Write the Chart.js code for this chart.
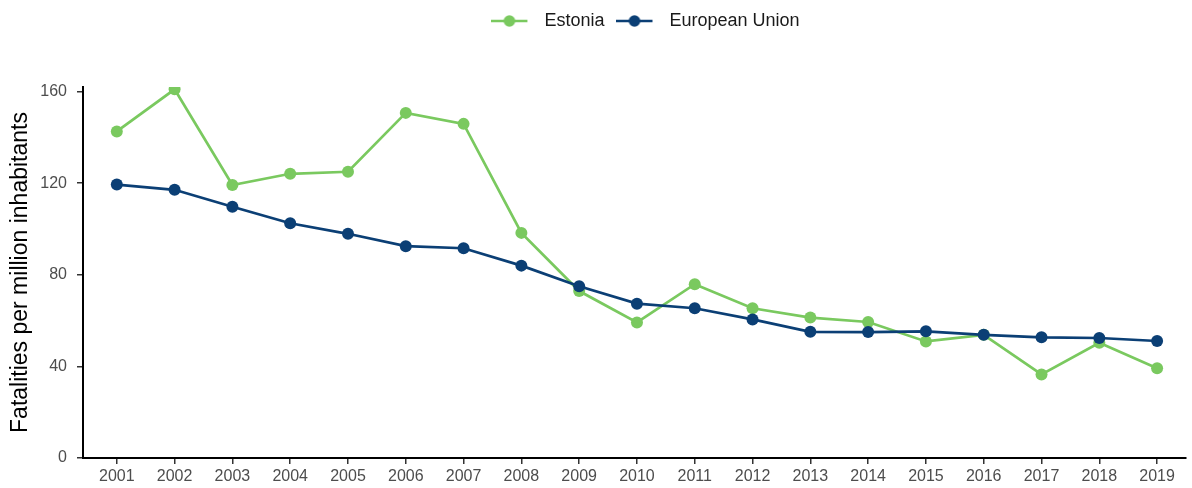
<!DOCTYPE html>
<html>
<head>
<meta charset="utf-8">
<script src="https://cdn.jsdelivr.net/npm/chart.js@4/dist/chart.umd.min.js"></script>
<style>
    body { margin: 0; background: #fff; }
    #wrap { width: 1192px; height: 488px; }
</style>
</head>
<body>
<div id="wrap"><canvas id="roadChart" width="1192" height="488"></canvas></div>
<script>
// Road fatalities per million inhabitants, Estonia vs EU
const years = [2001, 2002, 2003, 2004, 2005, 2006, 2007, 2008, 2009, 2010,
               2011, 2012, 2013, 2014, 2015, 2016, 2017, 2018, 2019];
const estonia = [142.6, 161.0, 119.2, 124.1, 125.0, 150.7, 145.9, 98.3, 72.9, 59.2,
                 75.9, 65.4, 61.3, 59.4, 50.9, 53.8, 36.5, 50.3, 39.2];
const eu = [119.4, 117.1, 109.7, 102.5, 97.9, 92.5, 91.6, 84.0, 75.0, 67.4,
            65.4, 60.5, 55.1, 55.0, 55.3, 53.8, 52.7, 52.4, 51.1];
const yTicks = [0, 40, 80, 120, 160];

const GREEN = '#7AC95F';
const BLUE = '#0B3F75';
const FONT = '"Liberation Sans", Arial, sans-serif';

// little line + dot icon for the legend
function legendIcon(color) {
    const c = document.createElement('canvas');
    c.width = 44;
    c.height = 14;
    const g = c.getContext('2d');
    g.strokeStyle = color;
    g.lineWidth = 2.6;
    g.beginPath();
    g.moveTo(0, 7);
    g.lineTo(36, 7);
    g.stroke();
    g.fillStyle = color;
    g.beginPath();
    g.arc(18, 7, 5.8, 0, Math.PI * 2);
    g.fill();
    return c;
}
const icons = [legendIcon(GREEN), legendIcon(BLUE)];

function toPoints(values) {
    return values.map((v, i) => ({ x: years[i], y: v }));
}

// make the legend box taller so the plot starts lower, and nudge it right
const legendSpacer = {
    id: 'legendSpacer',
    beforeLayout(chart) {
        const lg = chart.legend;
        if (lg && !lg._patched) {
            lg._patched = true;
            const fit = lg.fit;
            lg.fit = function() {
                fit.call(this);
                this.height = 87;
            };
        }
    },
    afterLayout(chart) {
        const lg = chart.legend;
        if (lg) {
            lg.left += 11;
            lg.right += 11;
        }
    }
};

new Chart(document.getElementById('roadChart'), {
    type: 'line',
    data: {
        datasets: [
            {
                label: 'Estonia',
                data: toPoints(estonia),
                borderColor: GREEN,
                backgroundColor: GREEN,
                borderWidth: 2.7,
                pointRadius: 6,
                pointHoverRadius: 6,
                pointBorderWidth: 0,
                order: 2,
                clip: 0
            },
            {
                label: 'European Union',
                data: toPoints(eu),
                borderColor: BLUE,
                backgroundColor: BLUE,
                borderWidth: 2.7,
                pointRadius: 6,
                pointHoverRadius: 6,
                pointBorderWidth: 0,
                order: 1,
                clip: 0
            }
        ]
    },
    options: {
        responsive: false,
        animation: false,
        layout: { padding: { left: 0, right: 0, top: 0, bottom: 0 } },
        plugins: {
            tooltip: { enabled: false },
            legend: {
                position: 'top',
                fullSize: false,
                labels: {
                    usePointStyle: true,
                    pointStyleWidth: 44,
                    padding: 12,
                    color: '#1a1a1a',
                    font: { family: FONT, size: 18 },
                    sort: (a, b) => a.datasetIndex - b.datasetIndex,
                    generateLabels(chart) {
                        const items = Chart.defaults.plugins.legend.labels.generateLabels(chart);
                        items.forEach(item => { item.pointStyle = icons[item.datasetIndex]; });
                        return items;
                    }
                }
            }
        },
        scales: {
            x: {
                type: 'linear',
                min: 2000.415,
                max: 2019.5,
                afterBuildTicks(axis) { axis.ticks = years.map(v => ({ value: v })); },
                afterFit(axis) { axis.height = 30; },
                grid: { drawOnChartArea: false, tickLength: 6, color: '#333', lineWidth: 1.5 },
                border: { display: true, color: '#000', width: 2 },
                ticks: {
                    color: '#4d4d4d',
                    padding: 3,
                    maxRotation: 0,
                    autoSkip: false,
                    font: { family: FONT, size: 16 },
                    callback: v => String(v)
                }
            },
            y: {
                min: 0,
                max: 162,
                afterBuildTicks(axis) { axis.ticks = yTicks.map(v => ({ value: v })); },
                afterFit(axis) { axis.width = 83; },
                grid: { drawOnChartArea: false, tickLength: 6, color: '#333', lineWidth: 1.5 },
                border: { display: true, color: '#000', width: 2 },
                ticks: {
                    color: '#4d4d4d',
                    padding: 10,
                    font: { family: FONT, size: 16 }
                },
                title: {
                    display: true,
                    text: 'Fatalities per million inhabitants',
                    color: '#000',
                    padding: { top: 7, bottom: 0 },
                    font: { family: FONT, size: 23 }
                }
            }
        }
    },
    plugins: [legendSpacer]
});
</script>
</body>
</html>
